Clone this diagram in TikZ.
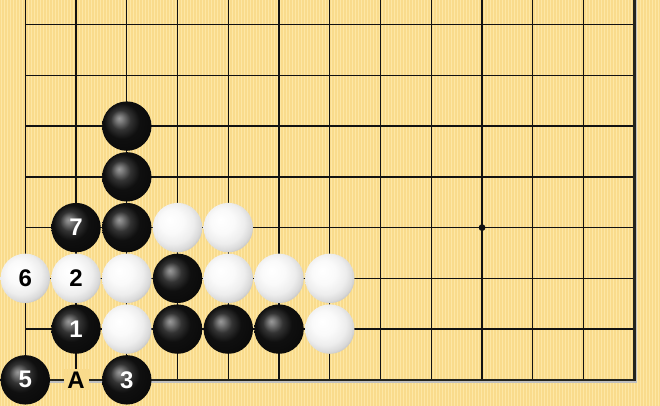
\documentclass[tikz,border=0pt]{standalone}
\usepackage{fontspec}
\setmainfont{Liberation Sans}
\definecolor{board}{RGB}{249,219,140}
\definecolor{stripe}{RGB}{253,231,165}
\definecolor{gridc}{RGB}{18,18,18}
\definecolor{edgec}{RGB}{36,36,28}
\pgfdeclareradialshading{blackstone}{\pgfpoint{-8bp}{8bp}}{%
  color(0bp)=(black!40);
  color(3bp)=(black!50);
  color(10bp)=(black!80);
  color(18bp)=(black!94);
  color(30bp)=(black!96);
  color(37bp)=(black!80);
  color(50bp)=(black!80)}
\pgfdeclareradialshading{whitestone}{\pgfpoint{-8bp}{8bp}}{%
  color(0bp)=(white);
  color(12bp)=(black!2);
  color(21bp)=(black!7);
  color(27bp)=(black!15);
  color(31bp)=(black!27);
  color(37bp)=(black!45);
  color(50bp)=(black!45)}
\newcommand\labfont{\fontsize{24}{26}\selectfont\bfseries}
\tikzset{
  gridline/.style={draw=gridc, line width=1.35pt},
  edgeline/.style={draw=edgec, line width=2.6pt},
  edgeshadow/.style={draw=black!25, line width=1.6pt},
  stonebase/.style={circle, inner sep=0pt, minimum size=49.4pt, font=\labfont},
  bstone/.style={stonebase, shading=blackstone, text=white},
  wstone/.style={stonebase, shading=whitestone, text=black},
  marklabel/.style={fill=board, inner sep=0pt, minimum width=25pt,
    minimum height=21pt, font=\labfont},
}
\newcommand\BStone[4]{\node[bstone] (#1) at ({25.3+50.75*#2},{24.6+50.75*#3}) {#4};}
\newcommand\WStone[4]{\node[wstone] (#1) at ({25.3+50.75*#2},{24.6+50.75*#3}) {#4};}
\begin{document}
\begin{tikzpicture}[x=1pt,y=-1pt]
\useasboundingbox (0,0) rectangle (660,406);
\fill[board] (0,0) rectangle (660,406);
\foreach \k in {0,...,219} {
  \fill[stripe] ({3*\k+0.5},0) rectangle ({3*\k+1.6},406);
}
% grid
\foreach \i in {0,...,11} {
  \draw[gridline] ({25.3+50.75*\i},0) -- ({25.3+50.75*\i},379.85);
}
\foreach \j in {0,...,6} {
  \draw[gridline] (25.3,{24.6+50.75*\j}) -- (634.3,{24.6+50.75*\j});
}
% board edges with shadow
\draw[edgeshadow] (636.3,0) -- (636.3,381.85) -- (25.3,381.85);
\draw[edgeline] (634.3,0) -- (634.3,379.85) -- (0,379.85);
% star point
\fill[gridc] ({25.3+50.75*9},{24.6+50.75*4}) circle (3.4pt);
% label A
\node[marklabel] (A) at ({25.3+50.75*1},{24.6+50.75*7}) {A};
% black stones
\BStone{b1}{2}{2}{}
\BStone{b2}{2}{3}{}
\BStone{b3}{1}{4}{7}
\BStone{b4}{2}{4}{}
\BStone{b5}{3}{5}{}
\BStone{b6}{1}{6}{1}
\BStone{b7}{3}{6}{}
\BStone{b8}{4}{6}{}
\BStone{b9}{5}{6}{}
\BStone{b10}{0}{7}{5}
\BStone{b11}{2}{7}{3}
% white stones
\WStone{w1}{3}{4}{}
\WStone{w2}{4}{4}{}
\WStone{w3}{0}{5}{6}
\WStone{w4}{1}{5}{2}
\WStone{w5}{2}{5}{}
\WStone{w6}{4}{5}{}
\WStone{w7}{5}{5}{}
\WStone{w8}{6}{5}{}
\WStone{w9}{2}{6}{}
\WStone{w10}{6}{6}{}
\end{tikzpicture}
\end{document}
